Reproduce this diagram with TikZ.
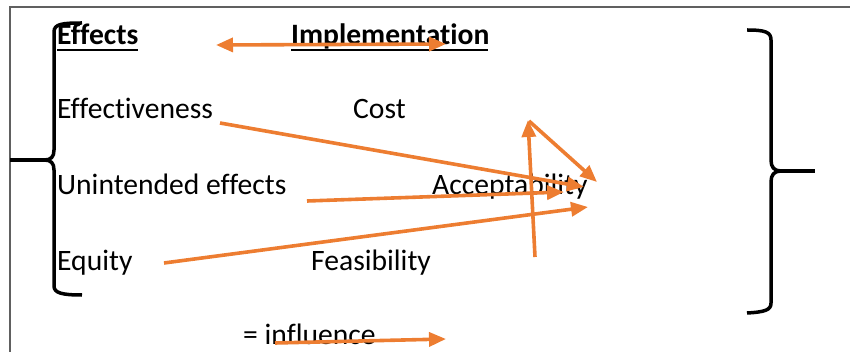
\documentclass[tikz,border=0pt]{standalone}
\usepackage{fontspec}
\setmainfont[Ligatures={NoCommon}]{Carlito}
\usetikzlibrary{arrows.meta}
\definecolor{orng}{HTML}{ED7D31}
\definecolor{frame}{HTML}{606060}
\begin{document}
\begin{tikzpicture}[x=1pt,y=-1pt,
  lbl/.style={anchor=base west,inner sep=0pt,font=\fontsize{29.6}{35}\selectfont},
  hdr/.style={lbl,font=\fontsize{29.6}{35}\selectfont\bfseries},
  infl/.style={draw=orng,line width=3.6pt,-{Triangle[length=17pt,width=14pt]}},
  infl2/.style={draw=orng,line width=3.6pt,{Triangle[length=17pt,width=14pt]}-{Triangle[length=17pt,width=14pt]}},
  brace/.style={draw=black,line width=3.5pt,line cap=butt},
  uline/.style={draw=black,line width=2pt}]
\useasboundingbox (0,0) rectangle (850,352);
% frame
\draw[frame,line width=2pt] (10,352) -- (10,7) -- (850,7);
% texts
\node[hdr] (eff) at (57,45) {Effects};
\node[hdr] (imp) at (291,45) {Implementation};
\draw[uline] (eff.base west) ++(0,5) -- ++(81,0);
\draw[uline] (imp.base west) ++(0,5) -- ++(197,0);
\node[lbl] (effv) at (57,119) {Effectiveness};
\node[lbl] (cost) at (353,119) {Cost};
\node[lbl] (unin) at (57,195) {Unintended effects};
\node[lbl] (acc) at (432,195) {Acceptability};
\node[lbl] (equ) at (57,271) {Equity};
\node[lbl] (feas) at (311,271) {Feasibility};
\node[lbl] (inf) at (243,344) {= influence};
% arrow end points
\coordinate (a1) at (216,45);
\coordinate (a2) at (446,44);
\coordinate (e1) at (220,123);
\coordinate (e2) at (584,187);
\coordinate (u1) at (307,201);
\coordinate (u2) at (564,192);
\coordinate (q1) at (164,263);
\coordinate (q2) at (588,207);
\coordinate (v1) at (535,257);
\coordinate (v2) at (528,120);
\coordinate (d1) at (529,121);
\coordinate (d2) at (597,182);
\coordinate (i1) at (275,343);
\coordinate (i2) at (446,339);
% arrows
\draw[infl2] (a1) -- (a2);
\draw[infl] (e1) -- (e2);
\draw[infl] (u1) -- (u2);
\draw[infl] (q1) -- (q2);
\draw[infl] (v1) -- (v2);
\draw[infl] (d1) -- (d2);
\draw[infl] (i1) -- (i2);
% left brace
\draw[brace] (82,23) .. controls (62,23) and (54,24) .. (54,32) -- (54,150)
  .. controls (54,157) and (51,160) .. (44,160)
  .. controls (51,160) and (54,163) .. (54,170) -- (54,286)
  .. controls (54,293) and (62,295) .. (82,295);
\draw[brace] (10,160) -- (44,160);
% right brace
\draw[brace] (747,30) .. controls (765,30) and (771,32) .. (771,40) -- (771,160)
  .. controls (771,167) and (774,171) .. (781,171)
  .. controls (774,171) and (771,175) .. (771,182) -- (771,303)
  .. controls (771,310) and (765,312) .. (747,313);
\draw[brace] (781,171) -- (815,171);
\end{tikzpicture}
\end{document}
